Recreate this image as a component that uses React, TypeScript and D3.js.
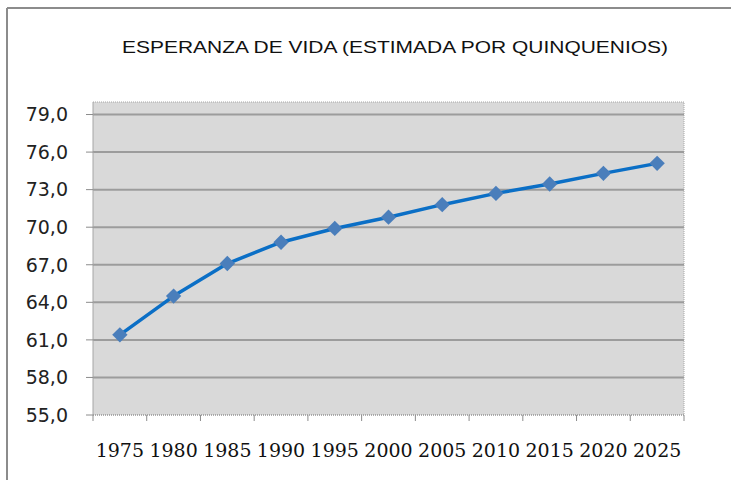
import React from "react";
import * as d3 from "d3";

const title = "ESPERANZA DE VIDA (ESTIMADA POR QUINQUENIOS)";
const years = ["1975", "1980", "1985", "1990", "1995", "2000", "2005", "2010", "2015", "2020", "2025"];
const lifeExpectancy = [61.4, 64.5, 67.1, 68.8, 69.9, 70.8, 71.8, 72.7, 73.45, 74.3, 75.1];
const yTicks = [55, 58, 61, 64, 67, 70, 73, 76, 79];

const W = 731;
const H = 480;
const plot = { left: 93, right: 684, top: 102, bottom: 415 };

export default function App() {
  const x = d3.scaleBand<string>().domain(years).range([plot.left, plot.right]).padding(0);
  const y = d3.scaleLinear().domain([55, 80]).range([plot.bottom, plot.top]);
  const line = d3
    .line<number>()
    .x((_, i) => (x(years[i]) as number) + x.bandwidth() / 2)
    .y((d) => y(d));
  const fmt = (v: number) => v.toFixed(1).replace(".", ",");
  const boundaries = d3.range(years.length + 1).map((i) => plot.left + i * x.bandwidth());
  const diamond = d3.symbol().type(d3.symbolDiamond2).size(150)();

  return (
    <svg
      width={W}
      height={H}
      style={{ position: "absolute", left: 0, top: 0, background: "#fff" }}
    >
      {/* outer frame */}
      <line x1={7} y1={8} x2={W} y2={8} stroke="#8c8c8c" strokeWidth={2} />
      <line x1={7} y1={8} x2={7} y2={H} stroke="#8c8c8c" strokeWidth={2} />

      <text
        x={122}
        y={53}
        textLength={546}
        lengthAdjust="spacingAndGlyphs"
        fontFamily="Liberation Sans, Arial, sans-serif"
        fontSize={17}
        fill="#111"
      >
        {title}
      </text>

      {/* plot area */}
      <rect
        x={plot.left}
        y={plot.top}
        width={plot.right - plot.left}
        height={plot.bottom - plot.top}
        fill="#d9d9d9"
        stroke="#a6a6a6"
        strokeWidth={1}
        strokeDasharray="1,1"
      />

      {/* gridlines */}
      {yTicks.slice(1).map((t) => (
        <line
          key={"g" + t}
          x1={plot.left}
          x2={plot.right}
          y1={y(t)}
          y2={y(t)}
          stroke="#9c9c9c"
          strokeWidth={2}
        />
      ))}

      {/* y axis */}
      <line x1={plot.left} x2={plot.left} y1={plot.top} y2={plot.bottom} stroke="#a6a6a6" strokeWidth={1} strokeDasharray="1,1" />
      {yTicks.map((t) => (
        <g key={"y" + t}>
          <line x1={plot.left - 7} x2={plot.left} y1={y(t)} y2={y(t)} stroke="#8c8c8c" strokeWidth={1} />
          <text
            x={68}
            y={y(t)}
            dy="0.36em"
            textAnchor="end"
            fontFamily="DejaVu Sans, Verdana, sans-serif"
            fontSize={19}
            fill="#222"
          >
            {fmt(t)}
          </text>
        </g>
      ))}

      {/* x axis */}
      <line x1={plot.left} x2={plot.right} y1={plot.bottom} y2={plot.bottom} stroke="#8c8c8c" strokeWidth={1} strokeDasharray="1,1" />
      {boundaries.map((b, i) => (
        <line key={"xt" + i} x1={b} x2={b} y1={plot.bottom} y2={plot.bottom + 6} stroke="#8c8c8c" strokeWidth={1} />
      ))}
      {years.map((yr) => (
        <text
          key={"xl" + yr}
          x={(x(yr) as number) + x.bandwidth() / 2}
          y={457}
          textAnchor="middle"
          fontFamily="DejaVu Serif, serif"
          fontSize={19}
          fill="#111"
        >
          {yr}
        </text>
      ))}

      {/* series */}
      <path d={line(lifeExpectancy) || ""} fill="none" stroke="#0b6fc6" strokeWidth={3.5} strokeLinejoin="round" />
      {lifeExpectancy.map((v, i) => (
        <path
          key={"m" + i}
          d={diamond || ""}
          transform={`translate(${(x(years[i]) as number) + x.bandwidth() / 2},${y(v)})`}
          fill="#4a7ebb"
        />
      ))}
    </svg>
  );
}
